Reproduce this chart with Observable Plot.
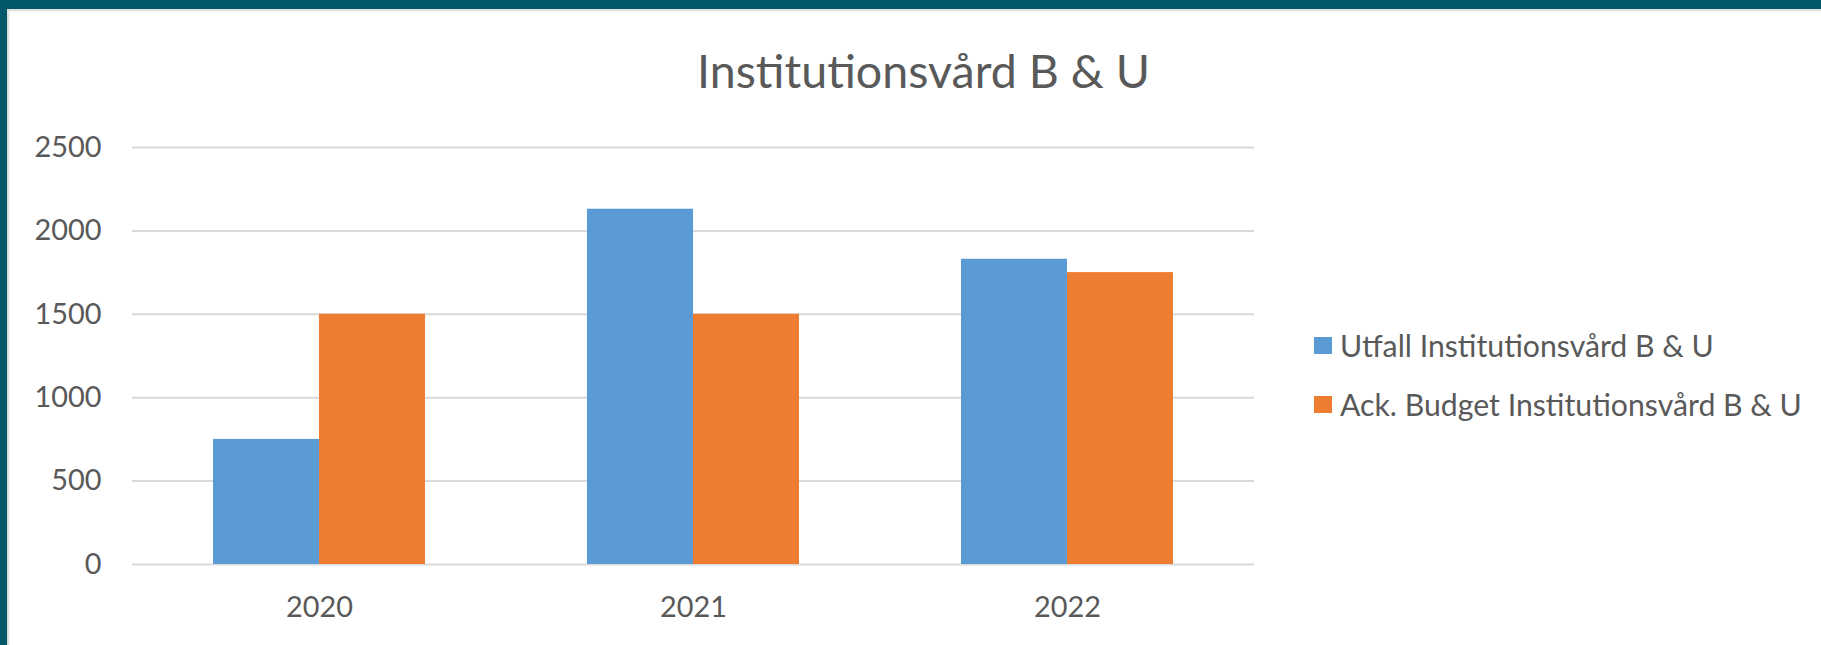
<!DOCTYPE html>
<html>
<head>
<meta charset="utf-8">
<script src="https://cdn.jsdelivr.net/npm/d3@7"></script>
<script src="https://cdn.jsdelivr.net/npm/@observablehq/plot@0.6"></script>
<style>
  html, body { margin: 0; padding: 0; background: #fff; overflow: hidden; }
  body { width: 1821px; height: 645px; position: relative; font-family: Lato, "Open Sans", sans-serif; color: #595959; }
  #frame { position: absolute; left: 0; top: 0; width: 1821px; height: 645px; box-sizing: border-box;
           border-top: 9px solid #03596a; border-left: 7px solid #03596a; }
  #shadow { position: absolute; left: 7px; top: 9px; right: 0; bottom: 0; box-shadow: inset 2px 2px 2px rgba(0,0,0,0.15); }
  #title { position: absolute; white-space: nowrap; line-height: 1; transform: translateX(-50%); }
  #chart { position: absolute; left: 0; top: 110px; }
  .leg { position: absolute; display: flex; align-items: center; white-space: nowrap; line-height: 1; }
  .sw { width: 18px; height: 17px; margin-right: 8px; flex: none; }
</style>
</head>
<body>
<div id="frame"></div>
<div id="shadow"></div>
<div id="title"></div>
<div id="chart"></div>
<div id="legend"></div>
<script>
const titleText = "Institutionsvård B & U";
const years = ["2020", "2021", "2022"];
const seriesNames = ["Utfall Institutionsvård B & U", "Ack. Budget Institutionsvård B & U"];
const utfall = [750, 2130, 1830];
const budget = [1500, 1500, 1750];
const yTicks = [0, 500, 1000, 1500, 2000, 2500];
const colors = ["#5b9bd5", "#ed7d31"];

const seriesValues = [utfall, budget];
const data = [];
years.forEach((yr, i) => seriesNames.forEach((s, j) => data.push({year: yr, series: s, value: seriesValues[j][i]})));

// fit font sizes to measured text widths in the reference
const ctx = document.createElement("canvas").getContext("2d");
function fit(text, target, family = "Lato") {
  ctx.font = `100px ${family}`;
  return 100 * target / ctx.measureText(text).width;
}
const tickSize = fit("2500", 67);
const titleSize = fit(titleText, 453);
const legendSize = fit(seriesNames[1], 462);

const title = document.getElementById("title");
title.textContent = titleText;
title.style.fontSize = titleSize + "px";
title.style.left = "923.5px";
title.style.top = (88 - 0.887 * titleSize) + "px";

const legend = document.getElementById("legend");
const rowBaselines = [357, 416];
seriesNames.forEach((s, j) => {
  const d = document.createElement("div");
  d.className = "leg";
  d.style.left = "1314px";
  d.style.top = (rowBaselines[j] - 0.887 * legendSize) + "px";
  d.style.height = legendSize + "px";
  d.style.fontSize = legendSize + "px";
  const sw = document.createElement("span");
  sw.className = "sw";
  sw.style.background = colors[j];
  d.appendChild(sw);
  d.appendChild(document.createTextNode(s));
  legend.appendChild(d);
});

const chart = Plot.plot({
  width: 1290,
  height: 535,
  marginLeft: 131,
  marginRight: 35,
  marginTop: 37,
  marginBottom: 81,
  style: { fontFamily: "Lato, 'Open Sans', sans-serif", fontSize: tickSize + "px", color: "#595959", background: "transparent" },
  fx: { domain: years, padding: 0, label: null, tickSize: 0, tickPadding: 32 },
  x: { domain: seriesNames, paddingInner: 0, paddingOuter: 0.75, axis: null },
  y: { domain: [0, 2500], ticks: yTicks, tickSize: 0, tickPadding: 31, label: null, tickFormat: d => String(d) },
  color: { domain: seriesNames, range: colors },
  marks: [
    Plot.gridY(yTicks, { stroke: "#d9d9d9", strokeOpacity: 1, strokeWidth: 2 }),
    Plot.barY(data, { fx: "year", x: "series", y: "value", fill: "series", inset: 0 })
  ]
});
document.getElementById("chart").appendChild(chart);
</script>
</body>
</html>
